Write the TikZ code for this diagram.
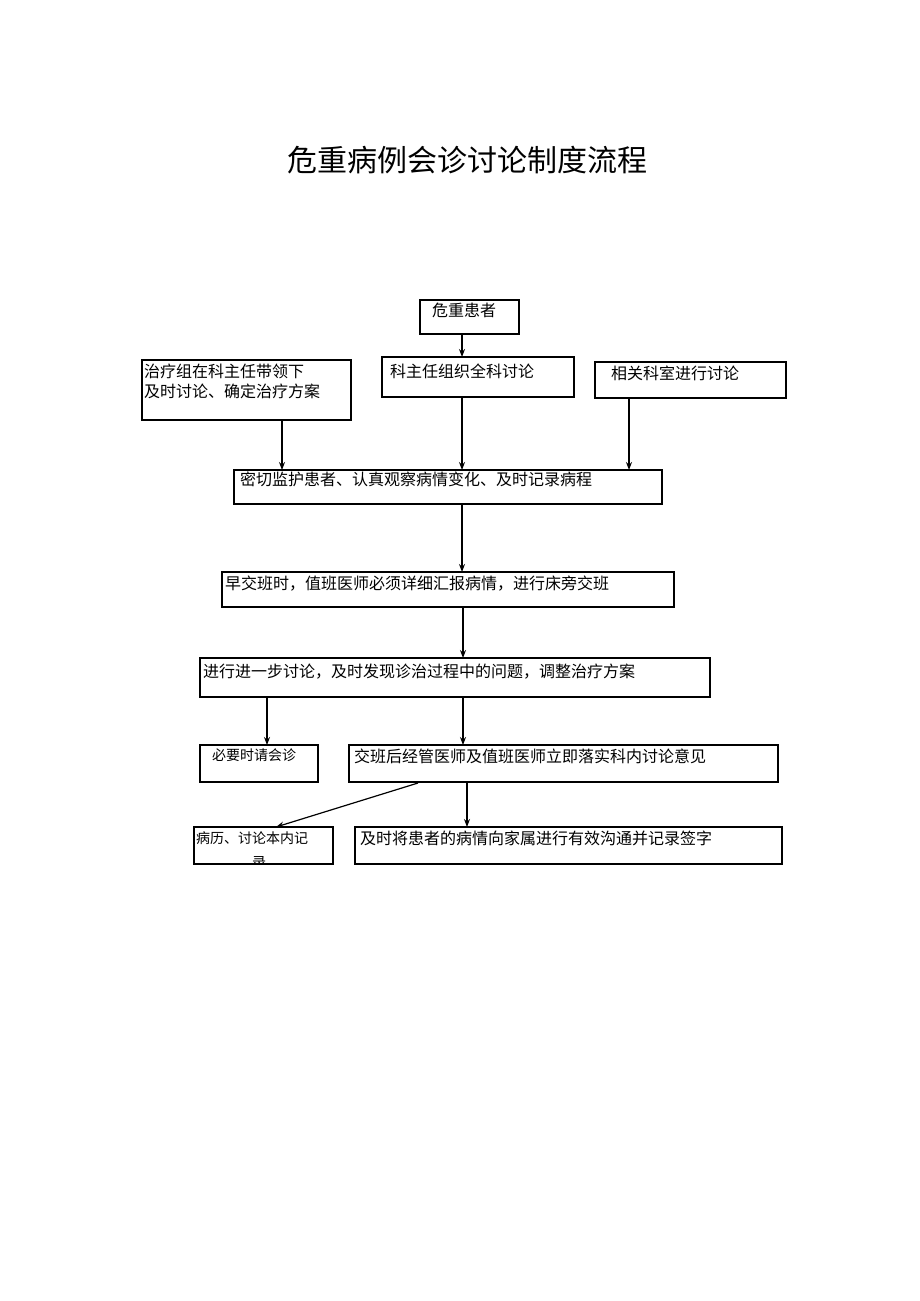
\documentclass[tikz,border=0pt]{standalone}
\usepackage{fontspec}
\newfontfamily\cjk{Noto Sans CJK SC}
\usetikzlibrary{arrows.meta}
\begin{document}
\begin{tikzpicture}[x=1pt,y=-1pt,
  bx/.style={draw,line width=1.2pt},
  tx/.style={anchor=north west,inner sep=0pt,font=\cjk\fontsize{16}{20}\selectfont},
  ar/.style={-{Stealth[length=8pt,width=6pt]},line width=1.2pt}]
\useasboundingbox (0,0) rectangle (920,1301);
\node[font=\cjk\fontsize{30}{34}\selectfont] (title) at (467,160) {危重病例会诊讨论制度流程};
\draw[bx] (420,300) rectangle (519,334); \node[tx] (t1) at (432,303) {危重患者};
\coordinate (b1t) at (462,334);
\draw[bx] (382,357) rectangle (574,397); \node[tx] (t2) at (390,364) {科主任组织全科讨论};
\draw[bx] (142,360) rectangle (351,420); \node[tx,align=left] (t3) at (144,364) {治疗组在科主任带领下\\及时讨论、确定治疗方案};
\draw[bx] (595,362) rectangle (786,398); \node[tx] (t4) at (611,366) {相关科室进行讨论};
\draw[bx] (234,470) rectangle (662,504); \node[tx] (t5) at (240,472) {密切监护患者、认真观察病情变化、及时记录病程};
\draw[bx] (222,572) rectangle (674,607); \node[tx] (t6) at (225,576) {早交班时，值班医师必须详细汇报病情，进行床旁交班};
\draw[bx] (200,658) rectangle (710,697); \node[tx] (t7) at (203,664) {进行进一步讨论，及时发现诊治过程中的问题，调整治疗方案};
\draw[bx] (200,745) rectangle (318,782); \node[tx,font=\cjk\fontsize{14}{18}\selectfont] (t8) at (212,749) {必要时请会诊};
\draw[bx] (349,745) rectangle (778,782); \node[tx] (t9) at (354,749) {交班后经管医师及值班医师立即落实科内讨论意见};
\draw[bx] (194,827) rectangle (333,864);
\begin{scope}
\clip (195,828) rectangle (332,863);
\node[tx,align=left,font=\cjk\fontsize{14}{24}\selectfont] (t10) at (196,832) {病历、讨论本内记\\\hspace*{56pt}录};
\end{scope}
\draw[bx] (355,827) rectangle (782,864); \node[tx] (t11) at (360,831) {及时将患者的病情向家属进行有效沟通并记录签字};
\draw[ar] (462,334) -- (462,357);
\draw[ar] (282,420) -- (282,470);
\draw[ar] (462,397) -- (462,470);
\draw[ar] (629,398) -- (629,470);
\draw[ar] (462,504) -- (462,572);
\draw[ar] (463,607) -- (463,658);
\draw[ar] (267,697) -- (267,745);
\draw[ar] (463,697) -- (463,745);
\draw[ar] (418,783) -- (276,827);
\draw[ar] (467,783) -- (467,827);
\end{tikzpicture}
\end{document}
